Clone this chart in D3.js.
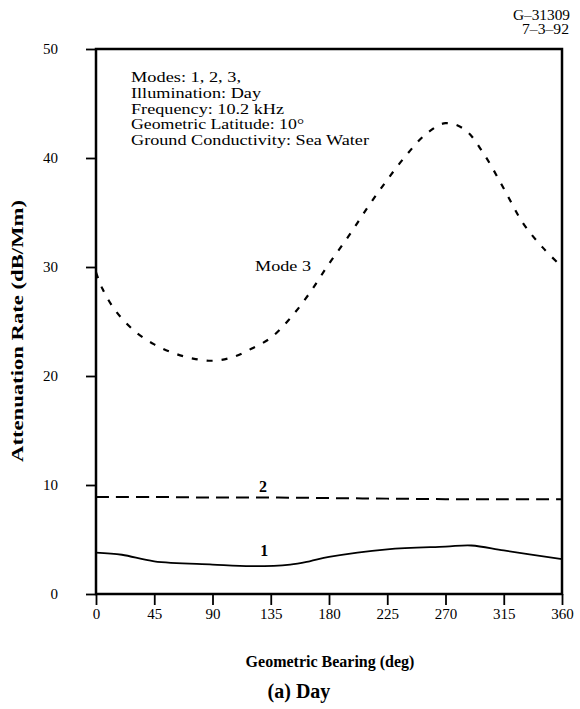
<!DOCTYPE html>
<html><head><meta charset="utf-8">
<script src="https://cdn.jsdelivr.net/npm/d3@7"></script>
<style>body{margin:0;background:#fff}svg{display:block}text{font-family:"Liberation Serif","Times New Roman",serif;fill:#000}</style>
</head><body><div id="chart"></div>
<script>
const bearings = [0,45,90,135,180,225,270,315,360];
const yTicks = [0,10,20,30,40,50];
const mode1 = [[0,3.8],[20,3.6],[45,3.0],[90,2.7],[120,2.55],[150,2.7],[165,3.0],[180,3.4],[225,4.1],[270,4.35],[290,4.45],[315,4.0],[360,3.2]];
const mode2 = [[0,8.9],[45,8.9],[90,8.85],[135,8.85],[180,8.8],[225,8.75],[270,8.7],[315,8.7],[360,8.7]];
const mode3 = [[0,29.5],[5,28.0],[15,26.0],[30,24.1],[45,22.9],[60,22.1],[75,21.6],[90,21.4],[105,21.7],[120,22.5],[135,23.5],[150,25.3],[165,27.6],[180,30.3],[195,32.8],[210,35.5],[225,38.0],[240,40.3],[255,42.2],[270,43.2],[285,42.6],[300,40.3],[315,37.2],[330,34.0],[345,31.8],[360,30.0]];
const infoLines = ["Modes: 1, 2, 3,","Illumination: Day","Frequency: 10.2 kHz","Geometric Latitude: 10\u00b0","Ground Conductivity: Sea Water"];
const infoWidths = [110,130,153,173,238];

const W=580,H=709;
const svg=d3.select("#chart").append("svg").attr("width",W).attr("height",H);
const x=d3.scaleLinear().domain([0,360]).range([96,562]);
const y=d3.scaleLinear().domain([0,50]).range([594,49]);

svg.append("rect").attr("x",96).attr("y",49).attr("width",466).attr("height",545)
  .attr("fill","none").attr("stroke","#000").attr("stroke-width",2.5);

const ya=svg.append("g").attr("transform","translate(96,0)")
  .call(d3.axisLeft(y).tickValues(yTicks).tickSize(10).tickPadding(28).tickFormat(d3.format("d")));
ya.select(".domain").remove();
ya.selectAll("line").attr("stroke","#000").attr("stroke-width",1.8);
ya.selectAll("text").attr("font-size",15).attr("dy","0.32em");

const xa=svg.append("g").attr("transform","translate(0,594)")
  .call(d3.axisBottom(x).tickValues(bearings).tickSize(11).tickPadding(3).tickFormat(d3.format("d")));
xa.select(".domain").remove();
xa.selectAll("line").attr("stroke","#000").attr("stroke-width",1.8);
xa.selectAll("text").attr("font-size",15);

const line=d3.line().x(d=>x(d[0])).y(d=>y(d[1])).curve(d3.curveCatmullRom);
svg.append("path").datum(mode1).attr("d",line).attr("fill","none").attr("stroke","#000").attr("stroke-width",1.8);
svg.append("path").datum(mode2).attr("d",line).attr("fill","none").attr("stroke","#000").attr("stroke-width",2).attr("stroke-dasharray","13,7");
svg.append("path").datum(mode3).attr("d",line).attr("fill","none").attr("stroke","#000").attr("stroke-width",2.2).attr("stroke-dasharray","6,9");

svg.append("text").attr("x",255).attr("y",271).attr("font-size",15).attr("textLength",56).attr("lengthAdjust","spacingAndGlyphs").text("Mode 3");
svg.append("text").attr("x",x(129)).attr("y",y(9.4)).attr("font-size",16).attr("font-weight","bold").attr("text-anchor","middle").text("2");
svg.append("text").attr("x",x(130)).attr("y",y(3.45)).attr("font-size",16).attr("font-weight","bold").attr("text-anchor","middle").text("1");

svg.append("g").selectAll("text").data(infoLines).join("text")
  .attr("x",131).attr("y",(d,i)=>82+i*15.8).attr("font-size",15)
  .attr("textLength",(d,i)=>infoWidths[i]).attr("lengthAdjust","spacingAndGlyphs").text(d=>d);

svg.append("text").attr("x",513).attr("y",20).attr("font-size",14).attr("textLength",57).attr("lengthAdjust","spacingAndGlyphs").text("G\u201331309");
svg.append("text").attr("x",522).attr("y",34).attr("font-size",14).attr("textLength",47).attr("lengthAdjust","spacingAndGlyphs").text("7\u20133\u201392");

svg.append("text").attr("x",330).attr("y",667).attr("text-anchor","middle").attr("font-size",16).attr("font-weight","bold").text("Geometric Bearing (deg)");
svg.append("text").attr("x",299).attr("y",698).attr("text-anchor","middle").attr("font-size",20).attr("font-weight","bold").text("(a) Day");
svg.append("text").attr("transform","translate(23,331) rotate(-90)").attr("text-anchor","middle").attr("font-size",17).attr("font-weight","bold")
  .attr("textLength",262).attr("lengthAdjust","spacingAndGlyphs").text("Attenuation Rate (dB/Mm)");
</script></body></html>
